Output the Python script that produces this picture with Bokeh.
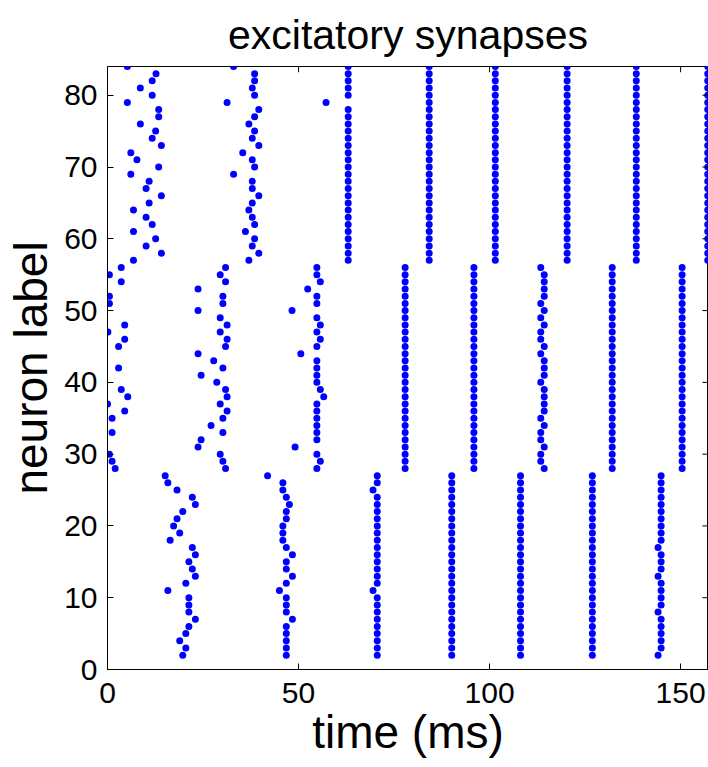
from bokeh.plotting import figure
from bokeh.models import ColumnDataSource, FixedTicker
from bokeh.embed import file_html
from bokeh.resources import INLINE

# ---------------- data ----------------
# Group A (neurons 57..84)
top_neurons = [84, 83, 82, 81, 80, 79, 78, 77, 76, 75, 74, 73, 72, 71,
               70, 69, 68, 67, 66, 65, 64, 63, 62, 61, 60, 59, 58, 57]
top_wave1 = [5.2, 12.7, 11.7, 8.6, 11.7, 5.2, 13.4, 13.4, 8.6, 12.6, 11.7, 14.1, 6.1, 7.7,
             13.4, 6.1, 10.9, 10.1, 14.1, 10.9, 6.8, 10.1, 11.7, 6.8, 12.6, 10.1, 14.1, 6.8]
top_wave2 = [33.0, 38.5, 38.5, 37.9, 38.5, 31.3, 39.6, 38.5, 37.0, 38.5, 37.9, 39.6, 35.4, 37.9,
             38.5, 33.0, 37.9, 37.9, 39.6, 37.9, 37.0, 37.9, 38.5, 36.1, 38.5, 37.9, 39.6, 37.0]
top_wave3 = [63.0, 63.0, 63.0, 63.0, 63.0, 57.2, 63.0, 63.0, 63.0, 63.0, 63.0, 63.0, 63.0, 63.0,
             63.0, 63.0, 63.0, 63.0, 63.0, 63.0, 63.0, 63.0, 63.0, 63.0, 63.0, 63.0, 63.0, 63.0]
top_sync_times = [84.2, 101.5, 120.3, 138.4, 157.1]

# Group B (neurons 28..56)
mid_neurons = [56, 55, 54, 53, 52, 51, 50, 49, 48, 47, 46, 45, 44, 43, 42,
               41, 40, 39, 38, 37, 36, 35, 34, 33, 32, 31, 30, 29, 28]
mid_wave1_neurons = [56, 55, 54, 52, 51, 48, 47, 46, 45, 42, 39, 38, 37, 36, 35, 33, 30, 29, 28]
mid_wave1 = [3.6, 0.5, 3.6, 0.5, 0.5, 4.5, 0.1, 4.5, 2.9, 2.9, 3.6, 5.3, 0.0, 4.5, 1.2, 1.2, 0.5, 1.2, 2.0]
mid_wave2 = [30.9, 29.5, 30.9, 23.7, 30.2, 30.2, 23.7, 29.5, 31.3, 29.5, 31.3, 30.9, 23.7, 27.8, 30.2,
             24.5, 28.6, 30.9, 31.3, 29.5, 31.3, 30.2, 27.1, 30.2, 24.5, 23.7, 29.5, 30.2, 30.9]
mid_wave3 = [54.8, 54.8, 55.7, 52.4, 54.8, 54.8, 48.3, 54.8, 55.7, 54.8, 55.7, 54.8, 50.6, 54.8, 54.8,
             54.8, 54.8, 55.7, 56.6, 54.8, 54.8, 54.8, 54.8, 54.8, 54.8, 49.1, 54.8, 55.7, 54.8]
mid_wave6 = [113.4, 114.3, 114.3, 114.3, 114.3, 113.4, 114.3, 113.4, 114.3, 113.4, 113.4, 114.3, 113.4, 114.3, 114.3,
             114.3, 113.4, 114.3, 114.3, 114.3, 114.3, 113.4, 114.3, 113.4, 113.4, 114.3, 113.4, 113.4, 114.3]
mid_sync_times = [77.9, 95.9, 132.1, 150.4]

# Group C (neurons 2..27)
bot_neurons = [27, 26, 25, 24, 23, 22, 21, 20, 19, 18, 17, 16, 15, 14,
               13, 12, 11, 10, 9, 8, 7, 6, 5, 4, 3, 2]
bot_wave1 = [15.1, 15.8, 18.2, 22.2, 23.0, 19.7, 18.2, 17.3, 18.9, 16.4, 22.2, 23.0, 21.3, 22.2,
             23.0, 20.5, 15.8, 21.3, 21.3, 21.3, 23.0, 21.3, 20.5, 18.9, 20.5, 19.7]
bot_wave2 = [41.9, 45.9, 45.9, 46.8, 47.6, 46.8, 46.8, 45.9, 45.9, 45.9, 46.8, 48.4, 46.8, 46.8,
             48.4, 46.8, 45.0, 46.8, 46.8, 46.8, 48.4, 46.8, 46.8, 46.8, 46.8, 46.8]
bot_wave3 = [70.6, 70.6, 69.5, 70.6, 70.6, 70.6, 70.6, 70.6, 70.6, 70.6, 70.6, 70.6, 70.6, 70.6,
             70.6, 70.6, 69.5, 70.6, 70.6, 70.6, 70.6, 70.6, 70.6, 70.6, 70.6, 70.6]
bot_wave7 = [144.9, 144.9, 144.9, 144.9, 144.9, 144.9, 144.9, 144.9, 144.9, 144.9, 144.1, 144.9, 144.9, 144.9,
             144.1, 144.9, 144.9, 144.9, 144.9, 144.1, 144.9, 144.9, 144.9, 144.9, 144.9, 144.1]
bot_sync_times = [90.1, 108.1, 126.9]

x_ticks = [0, 50, 100, 150]
y_ticks = [0, 10, 20, 30, 40, 50, 60, 70, 80]
X_MAX = 157.3
Y_MAX = 84

# ---------------- assemble spikes ----------------
xs, ys = [], []
def add(times, neurons):
    xs.extend(times)
    ys.extend(neurons)

add(top_wave1, top_neurons)
add(top_wave2, top_neurons)
add(top_wave3, top_neurons)
for t in top_sync_times:
    add([t] * len(top_neurons), top_neurons)

add(mid_wave1, mid_wave1_neurons)
add(mid_wave2, mid_neurons)
add(mid_wave3, mid_neurons)
add(mid_wave6, mid_neurons)
for t in mid_sync_times:
    add([t] * len(mid_neurons), mid_neurons)

add(bot_wave1, bot_neurons)
add(bot_wave2, bot_neurons)
add(bot_wave3, bot_neurons)
add(bot_wave7, bot_neurons)
for t in bot_sync_times:
    add([t] * len(bot_neurons), bot_neurons)

src = ColumnDataSource(data=dict(t=xs, n=ys))

FONT = "Liberation Sans"

p = figure(width=708, height=767, x_range=(0, X_MAX), y_range=(0, Y_MAX),
           output_backend="svg", toolbar_location=None,
           min_border_left=107, min_border_right=0, min_border_top=66, min_border_bottom=98,
           title="excitatory synapses")
p.background_fill_color = "white"
p.border_fill_color = "white"
p.outline_line_color = "black"
p.outline_line_width = 1
p.xgrid.visible = False
p.ygrid.visible = False

p.title.text_font = FONT
p.title.text_font_size = "41px"
p.title.text_font_style = "normal"
p.title.align = "center"
p.title.standoff = 18
p.title.text_color = "black"

p.scatter(x="t", y="n", source=src, marker="circle", size=7,
          fill_color="#0000ff", line_color=None)

# inward tick marks on the top and right edges of the box (MATLAB style)
top_tick_len = 0.8    # in y data units (~6 px)
right_tick_len = 1.6  # in x data units (~6 px)
p.segment(x0=x_ticks, y0=[Y_MAX] * len(x_ticks), x1=x_ticks,
          y1=[Y_MAX - top_tick_len] * len(x_ticks), line_color="black", line_width=1)
p.segment(x0=[X_MAX] * len(y_ticks), y0=y_ticks, x1=[X_MAX - right_tick_len] * len(y_ticks),
          y1=y_ticks, line_color="black", line_width=1)

def style_axis(ax, ticks):
    ax.ticker = FixedTicker(ticks=ticks)
    ax.major_tick_in = 6
    ax.major_tick_out = 0
    ax.minor_tick_line_color = None
    ax.axis_line_color = "black"
    ax.major_tick_line_color = "black"
    ax.major_label_text_font = FONT
    ax.major_label_text_font_size = "30px"
    ax.major_label_text_color = "black"

xa = p.xaxis[0]
style_axis(xa, x_ticks)
xa.major_label_standoff = 13
xa.axis_label = "time (ms)"
xa.axis_label_text_font = FONT
xa.axis_label_text_font_size = "46px"
xa.axis_label_text_font_style = "normal"
xa.axis_label_text_color = "black"
xa.axis_label_standoff = 0

ya = p.yaxis[0]
style_axis(ya, y_ticks)
ya.major_label_standoff = 10
ya.axis_label = "neuron label"
ya.axis_label_text_font = FONT
ya.axis_label_text_font_size = "46px"
ya.axis_label_text_font_style = "normal"
ya.axis_label_text_color = "black"
ya.axis_label_standoff = 4

open("out.html", "w").write(file_html(p, INLINE))
